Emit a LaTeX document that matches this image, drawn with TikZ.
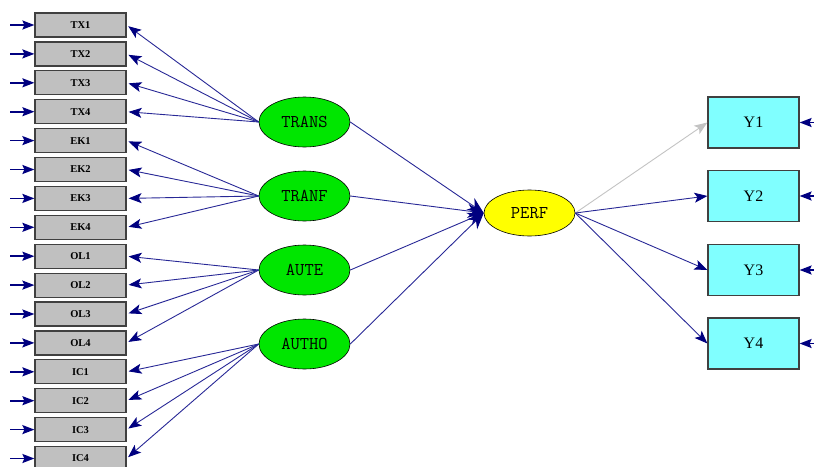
\documentclass[tikz,border=0pt]{standalone}
\usepackage{fontspec}
\setmainfont{Liberation Serif}
\usetikzlibrary{arrows.meta,shapes.geometric}
\definecolor{navy}{RGB}{0,0,128}
\definecolor{lnavy}{RGB}{40,40,150}
\definecolor{boxgray}{RGB}{192,192,192}
\definecolor{edgegray}{RGB}{64,64,64}
\definecolor{cyanbox}{RGB}{128,255,255}
\definecolor{lvgreen}{RGB}{0,230,0}
\definecolor{lvyellow}{RGB}{255,255,0}
\definecolor{lightg}{RGB}{195,195,195}
\tikzset{
  ind/.style={draw=edgegray, line width=1.2pt, fill=boxgray, minimum width=91pt, minimum height=24pt, inner sep=0pt,
    font=\fontsize{10.5}{11}\selectfont\bfseries},
  ybox/.style={draw=edgegray, line width=1.2pt, fill=cyanbox, minimum width=91pt, minimum height=51pt, inner sep=0pt,
    font=\fontsize{16}{18}\selectfont},
  lv/.style={ellipse, draw=black, line width=0.6pt, fill=lvgreen, minimum width=91pt, minimum height=50pt, inner sep=0pt,
    font=\ttfamily\fontsize{18}{20}\selectfont},
  ld/.style={draw=lnavy, line width=0.9pt, -{Stealth[length=13pt,width=10pt,inset=3pt,color=navy,fill=navy]}, shorten >=2pt},
  err/.style={draw=navy, line width=1.6pt, -{Stealth[length=12pt,width=9pt,inset=2pt]}},
  path/.style={draw=lnavy, line width=0.9pt, -{Stealth[length=16pt,width=14pt,color=navy,fill=navy]}},
  grayp/.style={draw=lightg, line width=0.9pt, -{Stealth[length=13pt,width=10pt,inset=3pt]}},
}
\begin{document}
\begin{tikzpicture}[x=1pt,y=-1pt]
\useasboundingbox (0,0) rectangle (814,466);
% indicator boxes
\foreach \n/\t [count=\i from 0] in {b1/TX1,b2/TX2,b3/TX3,b4/TX4,b5/EK1,b6/EK2,b7/EK3,b8/EK4,b9/OL1,b10/OL2,b11/OL3,b12/OL4,b13/IC1,b14/IC2,b15/IC3,b16/IC4}{
  \node[ind] (\n) at (80.5,{25+28.9*\i}) {\t};
  \coordinate (e\n) at (10,{25+28.9*\i});
  \draw[err] (e\n) -- (\n.west);
}
% latent variables
\node[lv] (TRANS) at (304.5,122) {TRANS};
\node[lv] (TRANF) at (304.5,196) {TRANF};
\node[lv] (AUTE) at (304.5,270) {AUTE};
\node[lv] (AUTHO) at (304.5,344) {AUTHO};
\node[lv, fill=lvyellow, minimum height=46pt] (PERF) at (529.5,213) {PERF};
% Y boxes
\node[ybox] (Y1) at (753.5,122.5) {Y1};
\node[ybox] (Y2) at (753.5,196) {Y2};
\node[ybox] (Y3) at (753.5,270) {Y3};
\node[ybox] (Y4) at (753.5,343.5) {Y4};
\foreach \y in {Y1,Y2,Y3,Y4}{
  \coordinate (e\y) at (824,0 |- \y.east);
  \draw[err] (e\y) -- (\y.east);
}
% loadings
\foreach \b in {b1,b2,b3,b4}{\draw[ld] (TRANS.west) -- (\b.east);}
\foreach \b in {b5,b6,b7,b8}{\draw[ld] (TRANF.west) -- (\b.east);}
\foreach \b in {b9,b10,b11,b12}{\draw[ld] (AUTE.west) -- (\b.east);}
\foreach \b in {b13,b14,b15,b16}{\draw[ld] (AUTHO.west) -- (\b.east);}
% structural paths
\foreach \l in {TRANS,TRANF,AUTE,AUTHO}{\draw[path] (\l.east) -- (PERF.west);}
\draw[grayp] (PERF.east) -- (Y1.west);
\draw[ld, shorten >=0pt] (PERF.east) -- (Y2.west);
\draw[ld, shorten >=0pt] (PERF.east) -- (Y3.west);
\draw[ld, shorten >=0pt] (PERF.east) -- (Y4.west);
\end{tikzpicture}
\end{document}
